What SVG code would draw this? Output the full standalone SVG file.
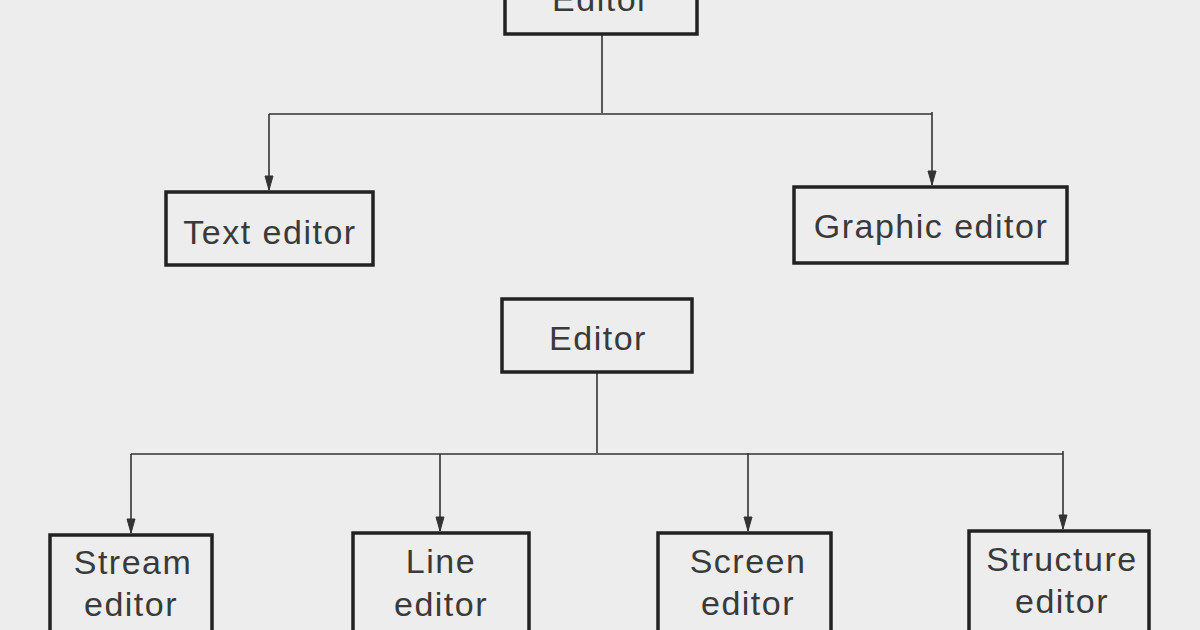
<svg xmlns="http://www.w3.org/2000/svg" width="1200" height="630" viewBox="0 0 1200 630">
<defs>
<marker id="arr" markerWidth="16" markerHeight="10" refX="15" refY="5" orient="auto" markerUnits="userSpaceOnUse">
<path d="M1,1 L15,5 L1,9 Z" fill="#333" stroke="#333" stroke-width="1"/>
</marker>
<style>
.box{fill:none;stroke:#222;stroke-width:3.5}
.lbl{font-family:"Liberation Sans",Arial,sans-serif;font-size:34px;fill:#3a3a3a;letter-spacing:1.5px;text-anchor:middle}
.conn{fill:none;stroke:#333;stroke-width:1.6}
</style>
</defs>
<rect x="0" y="0" width="1200" height="630" fill="#ededed"/>
<g id="connectors">
<path class="conn" d="M602,34 V113"/>
<path class="conn" d="M269,114 H932"/>
<path class="conn" d="M269,114 V190" marker-end="url(#arr)"/>
<path class="conn" d="M932,112 V185" marker-end="url(#arr)"/>
<path class="conn" d="M597,372 V453"/>
<path class="conn" d="M131,454 H1063"/>
<path class="conn" d="M131,454 V533" marker-end="url(#arr)"/>
<path class="conn" d="M440,454 V531" marker-end="url(#arr)"/>
<path class="conn" d="M748,453 V531" marker-end="url(#arr)"/>
<path class="conn" d="M1063,451 V529" marker-end="url(#arr)"/>
</g>
<g id="editor-top">
<rect class="box" x="505" y="-40" width="192" height="74"/>
<text class="lbl" x="601" y="11">Editor</text>
</g>
<g id="text-editor">
<rect class="box" x="166" y="192" width="207" height="73"/>
<text class="lbl" x="270" y="244">Text editor</text>
</g>
<g id="graphic-editor">
<rect class="box" x="794" y="187" width="273" height="76"/>
<text class="lbl" x="931" y="238">Graphic editor</text>
</g>
<g id="editor-2">
<rect class="box" x="502" y="299" width="190" height="73"/>
<text class="lbl" x="598" y="350">Editor</text>
</g>
<g id="stream-editor">
<rect class="box" x="50" y="535" width="162" height="110"/>
<text class="lbl" x="133" y="574">Stream</text>
<text class="lbl" x="131" y="616">editor</text>
</g>
<g id="line-editor">
<rect class="box" x="353" y="533" width="176" height="112"/>
<text class="lbl" x="441" y="573">Line</text>
<text class="lbl" x="441" y="616">editor</text>
</g>
<g id="screen-editor">
<rect class="box" x="658" y="533" width="173" height="112"/>
<text class="lbl" x="748" y="573">Screen</text>
<text class="lbl" x="748" y="615">editor</text>
</g>
<g id="structure-editor">
<rect class="box" x="969" y="531" width="180" height="114"/>
<text class="lbl" x="1062" y="571">Structure</text>
<text class="lbl" x="1062" y="613">editor</text>
</g>
</svg>
